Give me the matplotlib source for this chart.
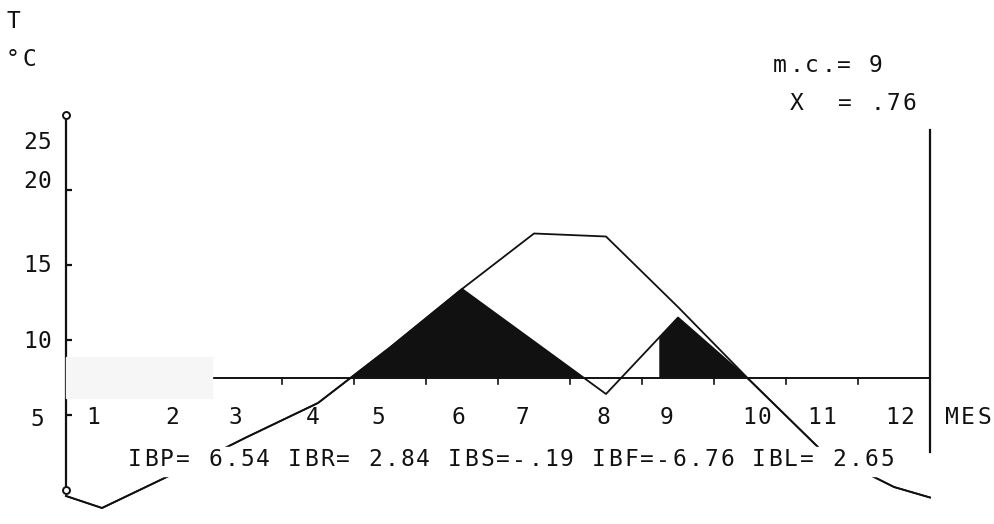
import numpy as np
import matplotlib.pyplot as plt
from matplotlib.patches import Rectangle

# month axis positions: 0 and 12 are the year ends, the rest month midpoints
meses_x = [0, 0.5, 1.5, 2.5, 3.5, 4.5, 5.5, 6.5, 7.5, 8.5, 9.5, 10.5, 11.5, 12]
# mean temperature (upper curve)
temp = [-0.4, -1.2, 1.1, 3.5, 5.8, 9.5, 13.4, 17.1, 16.9, 12.2, 7.3, 2.6, 0.2, -0.5]
# temperature after the water correction (lower curve)
temp_corr = [-0.4, -1.2, 1.1, 3.5, 5.8, 9.5, 13.4, 9.9, 6.4, 11.5, 7.3, 2.6, 0.2, -0.5]

base = 7.5          # baseline of the bioclimatic diagram
mes_comp = 9        # m.c.
x_comp = 0.76       # X
y_ticks = [20, 15, 10, 5]
y_lbls = ['25', '20', '15', '10', '5']
meses = ['1', '2', '3', '4', '5', '6', '7', '8', '9', '10', '11', '12']
indices = "IBP= 6.54 IBR= 2.84 IBS=-.19 IBF=-6.76 IBL= 2.65"

W, H = 995, 524
fig = plt.figure(figsize=(W / 100, H / 100), dpi=100)
ax = fig.add_axes([0, 0, 1, 1])
# 72 px per month starting at x=66 px, 15 px per degree with 0 at y=490 px
ax.set_xlim(-66 / 72, (W - 66) / 72)
ax.set_ylim((490 - H) / 15, 490 / 15)
ax.axis('off')

FONT = 'DejaVu Sans Mono'


def put(x, y, s, pitch=16, size=16.5, z=5):
    # place characters one by one with a fixed pitch, like the plotter did
    for i, ch in enumerate(s):
        if ch == ' ':
            continue
        fig.text((x + i * pitch) / W, 1 - y / H, ch, family=FONT, fontsize=size,
                 ha='center', va='center', color='#111111', zorder=z)


# scan artefact: pale patch on the baseline
fig.patches.append(Rectangle((66 / W, 1 - 398 / H), 146 / W, 41 / H,
                             transform=fig.transFigure, color='#f6f6f6', zorder=0))

# shaded real bioclimatic intensity (second hump only from the compensation point)
xx = np.linspace(0, 12, 2401)
tc = np.interp(xx, meses_x, temp_corr)
ok = (tc > base) & ((xx < mes_comp - 1.5) | (xx >= mes_comp - x_comp))
ax.fill_between(xx, base, tc, where=ok, color='#111111', lw=0, zorder=2)

ax.plot(meses_x, temp, color='#111111', lw=1.3, zorder=3)
ax.plot(meses_x, temp_corr, color='#111111', lw=1.3, zorder=3)

# axes
ax.plot([0, 12], [base, base], color='#111111', lw=1.4, zorder=4)
ax.plot([0, 0], [0, 25], color='#111111', lw=1.6, zorder=4)
ax.plot([12, 12], [(490 - 452) / 15, (490 - 130) / 15], color='#111111', lw=1.6, zorder=4)
for m in range(1, 12):
    ax.plot([m, m], [base, base - 0.45], color='#111111', lw=1.2, zorder=4)
ax.plot([0] * len(y_ticks), y_ticks, ls='none', marker=1, ms=4, mew=1.6,
        color='#111111', zorder=4)
ax.plot([0, 0], [25, 0], ls='none', marker='o', ms=5, mfc='white',
        mec='#111111', mew=1.4, zorder=5)

# white band where the index text overwrote the curves
fig.patches.append(Rectangle((128 / W, 1 - 476 / H), 772 / W, 29 / H,
                             transform=fig.transFigure, color='white', zorder=4))

put(13, 22, 'T')
put(13, 60, '°C')
put(780, 65, 'm.c.= ' + str(mes_comp))
put(797, 103, 'X  = ' + ('%.2f' % x_comp)[1:])
for lbl, yp in zip(y_lbls, [142, 181, 266, 342, 420]):
    put(37 - (len(lbl) - 1) * 7, yp, lbl, pitch=14)
for lbl, xp in zip(meses, [93, 172, 235, 313, 378, 458, 522, 603, 667, 757, 822, 900]):
    put(xp - (len(lbl) - 1) * 7.5, 418, lbl, pitch=15)
put(952, 418, 'MES', pitch=16)
put(135, 460, indices)

fig.savefig('out.png', dpi=100)
